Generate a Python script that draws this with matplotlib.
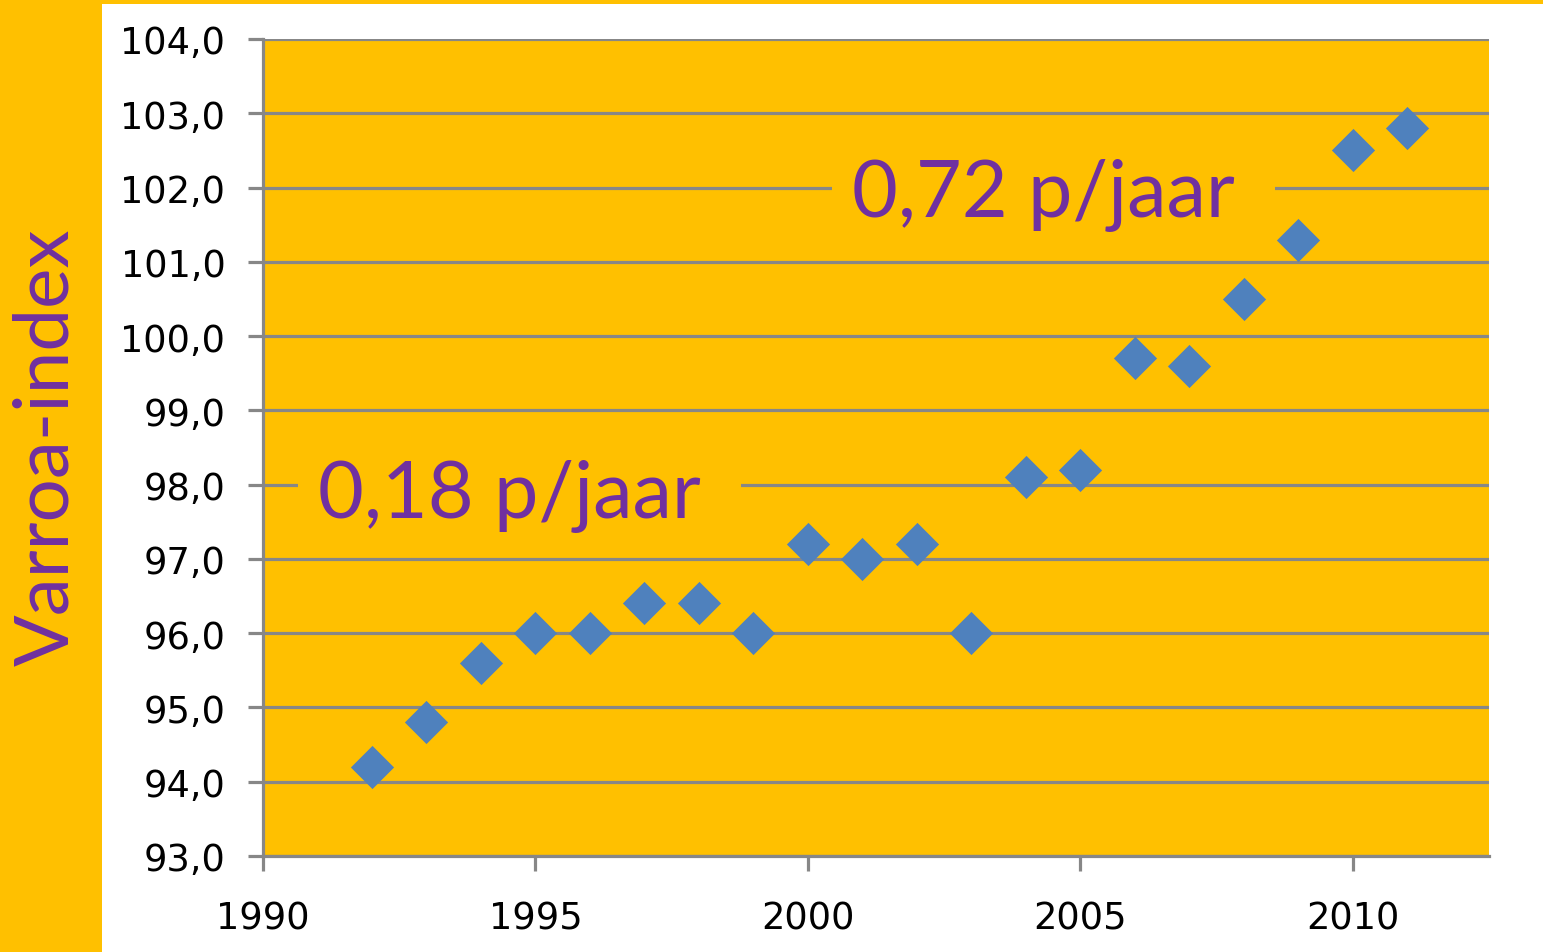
import matplotlib
matplotlib.use('Agg')
import matplotlib.pyplot as plt
from matplotlib.patches import Rectangle
from matplotlib.ticker import FuncFormatter

# varroa-index per jaar
jaren = [1992, 1993, 1994, 1995, 1996, 1997, 1998, 1999, 2000, 2001,
         2002, 2003, 2004, 2005, 2006, 2007, 2008, 2009, 2010, 2011]
index = [94.2, 94.8, 95.6, 96.0, 96.0, 96.4, 96.4, 96.0, 97.2, 97.0,
         97.2, 96.0, 98.1, 98.2, 99.7, 99.6, 100.5, 101.3, 102.5, 102.8]

labels = ['0,18 p/jaar ', '0,72 p/jaar ']
label_x = [1991.01, 2000.81]
label_y = [97.57, 101.62]

oranje = '#FFC000'
paars = '#7030A0'
blauw = '#4F81BD'
grijs = '#878787'

fig = plt.figure(figsize=(15.43, 9.53), dpi=100)
fig.patch.set_facecolor('white')
fig.patches.append(Rectangle((0, 0), 102 / 1543, 1, transform=fig.transFigure,
                             facecolor=oranje, edgecolor='none', zorder=0))
fig.patches.append(Rectangle((0, 1 - 5 / 953), 1, 5 / 953, transform=fig.transFigure,
                             facecolor=oranje, edgecolor='none', zorder=0))

ax = fig.add_axes([263 / 1543, 1 - 857 / 953, (1489 - 263) / 1543, (857 - 40) / 953])
ax.set_facecolor(oranje)

ax.scatter(jaren, index, marker='D', s=22 ** 2, color=blauw, zorder=3, linewidths=0)

ax.set_xlim(1990, 2012.5)
ax.set_ylim(93, 104)
ax.set_xticks(range(1990, 2011, 5))
ax.set_yticks(range(93, 105))
ax.yaxis.set_major_formatter(FuncFormatter(lambda v, p: ('%.1f' % v).replace('.', ',')))

ax.grid(axis='y', color=grijs, linewidth=2.3, zorder=1)
ax.set_axisbelow(True)
for s in ['top', 'right']:
    ax.spines[s].set_visible(False)
for s in ['left', 'bottom']:
    ax.spines[s].set_color(grijs)
    ax.spines[s].set_linewidth(2.3)

ax.tick_params(axis='both', colors=grijs, width=2.3, length=11, labelsize=26.5,
               labelcolor='black')
ax.tick_params(axis='y', pad=16)
ax.tick_params(axis='x', pad=20)

for t, x, y in zip(labels, label_x, label_y):
    ax.text(x, y, t, fontsize=57, family=['Lato', 'DejaVu Sans'], color=paars,
            ha='left', va='baseline', zorder=2,
            bbox=dict(boxstyle='square,pad=0.25', facecolor=oranje, edgecolor='none'))

fig.text(47 / 1543, 1 - 447 / 953, 'Varroa-index', rotation=90, fontsize=55,
         family=['Lato', 'DejaVu Sans'], color=paars, ha='center', va='center')

fig.savefig('out.png', dpi=100, facecolor=fig.get_facecolor())
